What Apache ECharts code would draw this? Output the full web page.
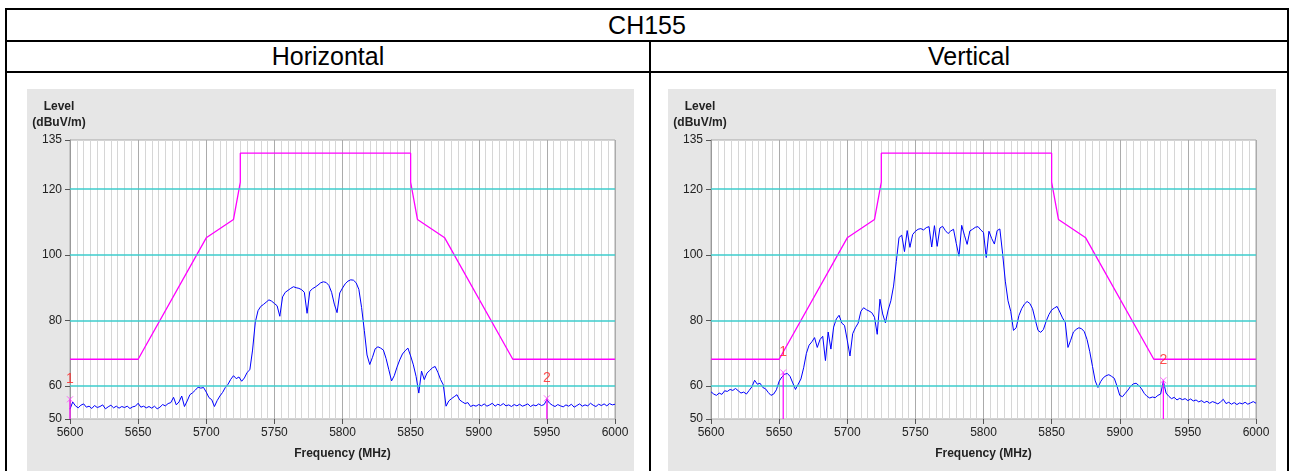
<!DOCTYPE html>
<html><head><meta charset="utf-8">
<script src="https://cdn.jsdelivr.net/npm/echarts@6/dist/echarts.min.js"></script>
<style>
html,body{margin:0;padding:0;background:#fff;width:1293px;height:471px;overflow:hidden;font-family:"Liberation Sans",Arial,sans-serif;}
.ln{position:absolute;background:#000;}
.hd{position:absolute;text-align:center;font-size:25px;color:#000;}
#c1,#c2{position:absolute;top:89px;height:382px;}
#c1{left:27px;width:607px;}
#c2{left:668px;width:608px;}
</style></head><body>
<div class="ln" style="left:5px;top:8px;width:1284px;height:2px"></div>
<div class="ln" style="left:5px;top:40px;width:1284px;height:2px"></div>
<div class="ln" style="left:5px;top:71px;width:1284px;height:2px"></div>
<div class="ln" style="left:5px;top:8px;width:2px;height:463px"></div>
<div class="ln" style="left:1287px;top:8px;width:2px;height:463px"></div>
<div class="ln" style="left:649px;top:40px;width:2px;height:431px"></div>
<div class="hd" style="left:7px;width:1280px;top:10px;height:30px;line-height:30px">CH155</div>
<div class="hd" style="left:7px;width:642px;top:42px;height:29px;line-height:29px">Horizontal</div>
<div class="hd" style="left:651px;width:636px;top:42px;height:29px;line-height:29px">Vertical</div>
<div id="c1"></div>
<div id="c2"></div>
<script>
// ---- data ----
const F_START = 5600, F_STEP = 2;           // sweep sampling (MHz)
const xTicks = [5600, 5650, 5700, 5750, 5800, 5850, 5900, 5950, 6000];
const yTicks = [50, 60, 80, 100, 120, 135];
const refLines = [60, 80, 100, 120];
const limitFreq  = [5600, 5650, 5700, 5720, 5725, 5725, 5850, 5850, 5855, 5875, 5925, 6000];
const limitLevel = [68.2, 68.2, 105.2, 110.8, 122.2, 131, 131, 122.2, 110.8, 105.2, 68.2, 68.2];

const levelH = [
53.0,55.2,54.0,53.4,54.2,54.6,53.6,53.9,53.2,54.1,
53.5,53.8,54.3,53.1,53.7,54.2,53.4,53.9,53.3,53.8,
53.5,53.9,53.2,53.7,53.9,54.8,53.6,53.9,53.4,53.8,
53.3,53.9,53.1,53.6,54.4,54.0,54.7,55.0,56.6,54.3,
55.2,57.0,53.8,55.5,57.4,58.0,58.8,59.7,59.4,59.6,
58.2,56.5,55.9,53.8,55.6,57.0,58.1,59.6,60.6,62.1,
63.2,62.3,62.8,61.5,62.5,64.2,65.0,71.0,79.5,83.0,
84.3,84.9,85.6,86.3,85.9,85.2,84.5,81.3,87.2,88.6,
89.2,89.8,90.3,90.0,89.8,89.4,88.6,82.2,88.9,89.7,
90.2,90.8,91.5,91.8,91.6,90.7,88.6,85.0,82.4,88.4,
89.9,91.2,92.0,92.4,92.3,91.5,89.5,84.0,77.0,69.5,
66.6,68.8,71.4,72.0,71.6,71.0,68.4,65.0,61.6,63.2,
65.8,68.0,69.8,70.8,71.6,69.2,66.5,63.0,57.9,64.6,
62.0,64.0,64.8,65.6,66.0,64.2,62.0,60.4,53.9,55.5,
56.2,56.8,57.4,55.8,55.2,54.7,55.0,53.8,54.2,53.9,
54.4,54.0,54.6,53.9,54.3,54.8,53.9,54.5,54.1,54.7,
54.0,54.3,53.8,54.4,54.0,54.5,53.9,54.2,54.6,53.8,
54.3,54.0,54.6,54.1,54.4,55.9,54.8,54.2,53.8,54.4,
54.0,53.7,54.3,53.9,54.5,53.6,54.1,54.6,53.9,54.3,
54.0,54.8,54.2,53.8,54.5,54.1,54.6,54.0,54.7,54.3,
54.5];

const levelV = [
58.3,57.6,57.2,57.9,57.5,58.6,58.4,59.0,58.7,59.3,
58.6,57.9,58.2,57.6,58.7,59.8,61.8,60.6,60.9,59.6,
59.2,58.1,57.2,57.6,58.9,61.5,62.8,63.6,63.9,63.0,
61.0,59.0,60.6,62.2,65.6,70.0,72.5,73.5,74.8,71.8,
74.2,75.2,67.8,76.5,71.3,78.0,80.5,81.6,79.2,78.5,
74.0,69.2,76.0,77.8,79.2,82.8,83.9,83.3,82.9,82.4,
81.0,75.8,86.5,82.0,79.3,83.2,86.0,90.5,98.0,105.3,
106.0,101.0,107.4,102.3,106.2,107.2,107.8,108.0,107.6,108.3,
108.6,102.4,108.9,102.6,108.2,108.7,107.4,106.5,107.3,107.8,
103.5,99.6,109.0,106.0,103.2,107.3,107.8,108.4,108.6,107.6,
106.8,99.2,107.2,105.0,103.3,107.4,107.9,100.5,92.0,86.0,
82.8,77.0,77.8,81.5,83.6,85.0,85.8,85.2,83.6,80.2,
77.0,76.4,77.3,79.8,81.8,83.2,83.8,84.3,82.6,80.8,
79.4,71.8,74.0,76.5,77.3,77.8,77.5,76.6,74.2,70.5,
66.0,61.6,59.6,61.4,62.6,63.2,63.5,63.0,62.4,60.0,
57.2,56.8,57.8,58.8,60.0,60.7,60.9,60.2,59.2,57.8,
56.9,56.4,56.7,56.5,57.2,57.6,61.5,57.9,56.9,56.2,
56.6,55.8,56.3,55.9,56.2,55.6,56.1,55.5,55.8,55.2,
55.6,55.0,55.4,54.8,55.3,55.0,54.6,55.2,56.0,54.7,
55.1,54.5,55.0,54.4,54.9,54.6,55.1,54.5,54.9,55.3,
54.8];

const markerNames = ['1', '2'];
const markerFreqH = [5600, 5950];
const markerLevelH = [56.0, 56.3];
const markerFreqV = [5653, 5932];
const markerLevelV = [64.2, 61.8];

// ---- chart ----
const FONT = '"Liberation Sans", Arial, sans-serif';
function buildOption(levels, mFreq, mLevel) {
  const trace = levels.map((v, i) => [F_START + i * F_STEP, v]);
  const limit = limitFreq.map((f, i) => [f, limitLevel[i]]);
  const series = [
    { type: 'line', data: [], silent: true,
      markLine: { silent: true, symbol: ['none', 'none'], animation: false,
        label: { show: false },
        lineStyle: { color: '#3ccccc', type: 'solid', width: 1.6 },
        data: refLines.map(v => ({ yAxis: v })) } },
    { type: 'line', data: limit, showSymbol: false, symbol: 'none',
      lineStyle: { color: '#ff00ff', width: 1.3 }, z: 3 },
    { type: 'line', data: trace, showSymbol: false, symbol: 'none',
      lineStyle: { color: '#0000ff', width: 1 }, z: 4 }
  ];
  mFreq.forEach((f, i) => {
    series.push({ type: 'line', data: [[f, 50], [f, mLevel[i]]], symbol: 'none',
      lineStyle: { color: '#ff00ff', width: 1.2 }, z: 5 });
    series.push({ type: 'scatter', data: [[f, mLevel[i]]], z: 6,
      symbol: 'path://M0,0L10,10M10,0L0,10', symbolSize: 6,
      itemStyle: { color: 'rgba(0,0,0,0)', borderColor: '#ff40ff', borderWidth: 1 },
      label: { show: true, position: 'top', distance: 10, formatter: markerNames[i],
        color: '#ff2020', fontSize: 14, fontFamily: FONT } });
  });
  return {
    animation: false,
    backgroundColor: '#e6e6e6',
    textStyle: { fontFamily: FONT },
    grid: { left: 43, top: 51, width: 545, height: 279, show: true,
      backgroundColor: '#ffffff', borderColor: '#a8a8a8', borderWidth: 1 },
    xAxis: { type: 'value', min: 5600, max: 6000, interval: 50,
      name: 'Frequency (MHz)', nameLocation: 'middle', nameGap: 29,
      nameTextStyle: { fontWeight: 'bold', fontSize: 12, color: '#222', fontFamily: FONT },
      axisLine: { show: false },
      axisTick: { show: true, length: 5, customValues: xTicks, lineStyle: { color: '#555' } },
      axisLabel: { fontSize: 12, color: '#222', margin: 8, customValues: xTicks, fontFamily: FONT,
        formatter: v => String(v) },
      splitLine: { show: true, lineStyle: { color: '#ababab', width: 1 } },
      minorTick: { show: false, splitNumber: 10 },
      minorSplitLine: { show: true, lineStyle: { color: '#d6d6d6', width: 1 } } },
    yAxis: { type: 'value', min: 50, max: 135,
      axisLine: { show: true, lineStyle: { color: '#999' } },
      axisTick: { show: true, length: 5, customValues: yTicks, lineStyle: { color: '#555' } },
      axisLabel: { customValues: yTicks, fontSize: 12, color: '#222', margin: 8, fontFamily: FONT,
        formatter: v => String(v) },
      splitLine: { show: false } },
    graphic: [{ type: 'text', x: 32, y: 10,
      style: { text: 'Level\n(dBuV/m)', textAlign: 'center', textVerticalAlign: 'top',
        font: 'bold 12px ' + FONT, lineHeight: 16, fill: '#222' } }],
    series: series
  };
}
const ch1 = echarts.init(document.getElementById('c1'));
ch1.setOption(buildOption(levelH, markerFreqH, markerLevelH));
const ch2 = echarts.init(document.getElementById('c2'));
ch2.setOption(buildOption(levelV, markerFreqV, markerLevelV));
</script>
</body></html>
